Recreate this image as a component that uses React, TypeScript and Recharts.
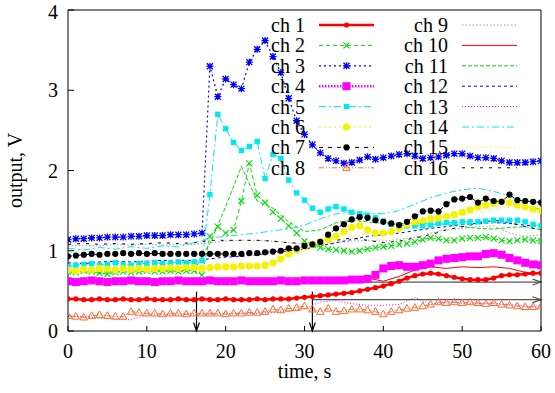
import { LineChart, Line, XAxis, YAxis, ReferenceLine, Legend, Label } from "recharts";

const FONT = "Liberation Serif";

// sample times (s)
const time1 = [
  0, 1, 2, 3, 4, 5, 6, 7, 8, 9, 10, 11, 12, 13, 14, 15, 16, 17, 18, 19, 20,
  21, 22, 23, 24, 25, 26, 27, 28, 29, 30, 31, 32, 33, 34, 35, 36, 37, 38, 39, 40,
  41, 42, 43, 44, 45, 46, 47, 48, 49, 50, 51, 52, 53, 54, 55, 56, 57, 58, 59, 60,
];
const time2 = [
  0, 2, 4, 6, 8, 10, 12, 14, 16, 18, 20, 22, 24, 26, 28, 30,
  32, 34, 36, 38, 40, 42, 44, 46, 48, 50, 52, 54, 56, 58, 60,
];

// channels with markers (time1)
const ch1 = [
  0.40, 0.40, 0.39, 0.39, 0.40, 0.39, 0.39, 0.40, 0.39, 0.39, 0.40, 0.39, 0.39, 0.39, 0.40, 0.39,
  0.39, 0.40, 0.39, 0.39, 0.40, 0.39, 0.39, 0.39, 0.40, 0.39, 0.40, 0.40, 0.40, 0.41, 0.42, 0.43,
  0.44, 0.45, 0.46, 0.47, 0.48, 0.50, 0.52, 0.54, 0.56, 0.59, 0.62, 0.66, 0.69, 0.71, 0.72, 0.71,
  0.69, 0.67, 0.65, 0.64, 0.64, 0.64, 0.66, 0.69, 0.70, 0.70, 0.71, 0.72, 0.72,
];
const ch2 = [
  0.74, 0.73, 0.75, 0.74, 0.72, 0.71, 0.73, 0.74, 0.73, 0.74, 0.75, 0.74, 0.74, 0.75, 0.74, 0.75,
  0.75, 0.70, 1.18, 1.30, 1.22, 1.26, 1.62, 2.09, 1.69, 1.60, 1.48, 1.40, 1.31, 1.22, 1.12, 1.07,
  1.04, 1.02, 1.01, 1.00, 0.99, 1.00, 1.02, 1.04, 1.05, 1.06, 1.08, 1.09, 1.11, 1.14, 1.16, 1.15,
  1.13, 1.13, 1.15, 1.16, 1.16, 1.17, 1.15, 1.13, 1.12, 1.13, 1.14, 1.13, 1.12,
];
const ch3 = [
  1.14, 1.15, 1.15, 1.16, 1.16, 1.17, 1.17, 1.17, 1.18, 1.18, 1.19, 1.19, 1.19, 1.20, 1.20, 1.20,
  1.21, 1.22, 3.30, 2.92, 3.14, 3.07, 3.02, 3.35, 3.51, 3.62, 3.42, 3.22, 2.90, 2.62, 2.45, 2.32,
  2.22, 2.15, 2.12, 2.09, 2.10, 2.13, 2.17, 2.14, 2.16, 2.18, 2.20, 2.21, 2.18, 2.15, 2.16, 2.17,
  2.19, 2.21, 2.21, 2.18, 2.16, 2.16, 2.15, 2.12, 2.10, 2.10, 2.10, 2.11, 2.12,
];
const ch4 = [
  0.62, 0.61, 0.62, 0.63, 0.62, 0.61, 0.62, 0.62, 0.63, 0.62, 0.62, 0.61, 0.62, 0.62, 0.63, 0.62,
  0.62, 0.62, 0.63, 0.62, 0.62, 0.62, 0.63, 0.62, 0.62, 0.62, 0.62, 0.63, 0.62, 0.62, 0.63, 0.63,
  0.63, 0.63, 0.63, 0.63, 0.64, 0.64, 0.65, 0.70, 0.78, 0.81, 0.82, 0.80, 0.80, 0.82, 0.84, 0.88,
  0.90, 0.91, 0.92, 0.93, 0.93, 0.96, 0.97, 0.95, 0.91, 0.88, 0.85, 0.83, 0.82,
];
const ch5 = [
  0.80, 0.82, 0.83, 0.84, 0.82, 0.83, 0.85, 0.83, 0.82, 0.84, 0.84, 0.85, 0.84, 0.85, 0.86, 0.85,
  0.86, 0.88, 1.70, 2.70, 2.52, 2.35, 2.25, 2.30, 2.36, 1.90, 2.20, 2.15, 1.88, 1.72, 1.63, 1.53,
  1.48, 1.52, 1.55, 1.52, 1.48, 1.46, 1.44, 1.41, 1.37, 1.33, 1.32, 1.31, 1.31, 1.31, 1.32, 1.34,
  1.35, 1.35, 1.36, 1.36, 1.36, 1.37, 1.38, 1.38, 1.38, 1.38, 1.36, 1.33, 1.31,
];
const ch6 = [
  0.76, 0.75, 0.77, 0.76, 0.78, 0.77, 0.76, 0.78, 0.77, 0.78, 0.77, 0.78, 0.78, 0.79, 0.78, 0.79,
  0.79, 0.78, 0.79, 0.80, 0.80, 0.80, 0.81, 0.81, 0.81, 0.82, 0.85, 0.90, 0.96, 1.01, 1.05, 1.08,
  1.11, 1.14, 1.18, 1.24, 1.29, 1.31, 1.26, 1.22, 1.22, 1.24, 1.28, 1.33, 1.36, 1.38, 1.40, 1.41,
  1.43, 1.45, 1.48, 1.51, 1.55, 1.57, 1.59, 1.61, 1.60, 1.57, 1.55, 1.52, 1.50,
];
const ch7 = [
  0.93, 0.94, 0.95, 0.96, 0.95, 0.96, 0.96, 0.97, 0.96, 0.97, 0.96, 0.97, 0.96, 0.96, 0.96, 0.96,
  0.96, 0.96, 0.96, 0.96, 0.96, 0.96, 0.96, 0.97, 0.97, 0.98, 0.99, 1.00, 1.03, 1.03, 1.06, 1.08,
  1.11, 1.20, 1.28, 1.33, 1.39, 1.42, 1.41, 1.38, 1.36, 1.34, 1.32, 1.36, 1.43, 1.49, 1.50, 1.49,
  1.58, 1.64, 1.65, 1.67, 1.60, 1.65, 1.62, 1.61, 1.70, 1.63, 1.62, 1.61, 1.60,
];
const ch8 = [
  0.19, 0.18, 0.17, 0.19, 0.20, 0.19, 0.18, 0.18, 0.24, 0.23, 0.22, 0.22, 0.21, 0.22, 0.22, 0.21,
  0.22, 0.22, 0.22, 0.22, 0.21, 0.22, 0.22, 0.23, 0.23, 0.24, 0.27, 0.26, 0.28, 0.29, 0.31, 0.27,
  0.24, 0.28, 0.24, 0.25, 0.27, 0.27, 0.26, 0.24, 0.21, 0.24, 0.26, 0.28, 0.29, 0.31, 0.33, 0.36,
  0.35, 0.36, 0.35, 0.36, 0.35, 0.34, 0.35, 0.33, 0.32, 0.31, 0.30, 0.30, 0.31,
];

// channels without markers (time2)
const ch9 = [1.06, 1.07, 1.06, 1.08, 1.07, 1.08, 1.07, 1.08, 1.08, 1.10, 1.12, 1.13, 1.13, 1.12, 1.10, 1.08, 1.07, 1.10, 1.12, 1.13, 1.12, 1.14, 1.17, 1.22, 1.26, 1.28, 1.30, 1.31, 1.22, 1.18, 1.20];
const ch10 = [0.63, 0.62, 0.64, 0.63, 0.62, 0.64, 0.63, 0.62, 0.63, 0.64, 0.64, 0.66, 0.63, 0.63, 0.62, 0.63, 0.64, 0.63, 0.63, 0.66, 0.62, 0.68, 0.76, 0.80, 0.78, 0.80, 0.79, 0.80, 0.78, 0.73, 0.72];
const ch11 = [0.73, 0.74, 0.72, 0.74, 0.75, 0.74, 0.76, 0.75, 0.76, 1.09, 1.55, 2.05, 1.62, 1.53, 1.36, 1.24, 1.26, 1.35, 1.38, 1.36, 1.34, 1.33, 1.35, 1.34, 1.33, 1.30, 1.28, 1.27, 1.29, 1.30, 1.26];
const ch12 = [0.85, 0.84, 0.86, 0.87, 0.86, 0.87, 0.88, 0.88, 0.88, 0.90, 0.92, 0.93, 0.95, 0.97, 1.00, 1.02, 1.06, 1.10, 1.14, 1.18, 1.20, 1.22, 1.25, 1.28, 1.30, 1.33, 1.34, 1.35, 1.34, 1.32, 1.30];
const ch13 = [0.18, 0.18, 0.16, 0.15, 0.14, 0.20, 0.20, 0.20, 0.21, 0.21, 0.21, 0.22, 0.22, 0.23, 0.25, 0.28, 0.36, 0.38, 0.34, 0.32, 0.32, 0.33, 0.42, 0.33, 0.36, 0.35, 0.34, 0.34, 0.33, 0.31, 0.30];
const ch14 = [1.03, 1.01, 1.04, 1.02, 1.05, 1.03, 1.06, 1.05, 1.10, 1.16, 1.18, 1.20, 1.22, 1.25, 1.27, 1.32, 1.40, 1.46, 1.48, 1.47, 1.46, 1.50, 1.58, 1.66, 1.72, 1.76, 1.78, 1.74, 1.68, 1.58, 1.51];
const ch15 = [0.72, 0.73, 0.72, 0.74, 0.73, 0.74, 0.74, 0.75, 0.75, 0.76, 0.77, 0.78, 0.80, 0.84, 0.92, 1.00, 1.06, 1.12, 1.18, 1.20, 1.22, 1.26, 1.32, 1.36, 1.40, 1.44, 1.48, 1.52, 1.54, 1.50, 1.46];
const ch16 = [1.08, 1.09, 1.08, 1.09, 1.08, 1.09, 1.10, 1.09, 1.10, 1.13, 1.13, 1.13, 1.13, 1.12, 1.10, 1.09, 1.10, 1.13, 1.16, 1.13, 1.10, 1.12, 1.16, 1.20, 1.26, 1.30, 1.34, 1.38, 1.35, 1.30, 1.26];

const xTicks = [0, 10, 20, 30, 40, 50, 60];
const yTicks = [0, 1, 2, 3, 4];

// marker arrows
const eventTimes = [16.3, 31];
const eventTop = 0.49;
const levels = [0.61, 0.39];
const levelStart = 31;

type Series = {
  name: string;
  t: number[];
  v: number[];
  color: string;
  width: number;
  dash?: string;
  marker?: string;
};

const series: Series[] = [
  { name: "ch 1", t: time1, v: ch1, color: "#ff0000", width: 2.5, marker: "dot" },
  { name: "ch 2", t: time1, v: ch2, color: "#00dd00", width: 1, dash: "4 3", marker: "cross" },
  { name: "ch 3", t: time1, v: ch3, color: "#0000ff", width: 1.2, dash: "2 3", marker: "star" },
  { name: "ch 4", t: time1, v: ch4, color: "#ff00ff", width: 2.5, dash: "1.5 1.5", marker: "bigSquare" },
  { name: "ch 5", t: time1, v: ch5, color: "#00e8f0", width: 1, dash: "7 3 2 3", marker: "square" },
  { name: "ch 6", t: time1, v: ch6, color: "#f4f400", width: 1, dash: "2 3", marker: "circle" },
  { name: "ch 7", t: time1, v: ch7, color: "#000000", width: 1, dash: "4 5", marker: "bigDot" },
  { name: "ch 8", t: time1, v: ch8, color: "#ff6a2a", width: 1, dash: "5 2 1 2 1 2", marker: "triangle" },
  { name: "ch 9", t: time2, v: ch9, color: "#a0a0a0", width: 1, dash: "1.5 2" },
  { name: "ch 10", t: time2, v: ch10, color: "#ff0000", width: 1 },
  { name: "ch 11", t: time2, v: ch11, color: "#00dd00", width: 1, dash: "4 2" },
  { name: "ch 12", t: time2, v: ch12, color: "#0000ff", width: 1, dash: "3 3" },
  { name: "ch 13", t: time2, v: ch13, color: "#ff00ff", width: 1, dash: "1 2" },
  { name: "ch 14", t: time2, v: ch14, color: "#00e8f0", width: 1, dash: "7 3 2 3" },
  { name: "ch 15", t: time2, v: ch15, color: "#f4f400", width: 1, dash: "1 3" },
  { name: "ch 16", t: time2, v: ch16, color: "#000000", width: 1, dash: "3 6" },
];

function marker(kind: string | undefined, cx: number, cy: number, color: string, key?: string) {
  switch (kind) {
    case "dot":
      return <circle key={key} cx={cx} cy={cy} r={2.6} fill={color} />;
    case "cross":
      return <path key={key} d={`M${cx - 3} ${cy - 3}L${cx + 3} ${cy + 3}M${cx - 3} ${cy + 3}L${cx + 3} ${cy - 3}`} stroke={color} strokeWidth={1.1} fill="none" />;
    case "star":
      return (
        <path
          key={key}
          d={`M${cx - 3.5} ${cy}L${cx + 3.5} ${cy}M${cx} ${cy - 3.5}L${cx} ${cy + 3.5}M${cx - 3} ${cy - 3}L${cx + 3} ${cy + 3}M${cx - 3} ${cy + 3}L${cx + 3} ${cy - 3}`}
          stroke={color}
          strokeWidth={1.3}
          fill="none"
        />
      );
    case "bigSquare":
      return <rect key={key} x={cx - 4} y={cy - 4} width={8} height={8} fill={color} />;
    case "square":
      return <rect key={key} x={cx - 2.7} y={cy - 2.7} width={5.4} height={5.4} fill={color} />;
    case "circle":
      return <circle key={key} cx={cx} cy={cy} r={3.6} fill={color} />;
    case "bigDot":
      return <circle key={key} cx={cx} cy={cy} r={3.1} fill={color} />;
    case "triangle":
      return <path key={key} d={`M${cx} ${cy - 4}L${cx + 3.7} ${cy + 2.6}L${cx - 3.7} ${cy + 2.6}Z`} stroke={color} strokeWidth={1} fill="none" />;
  }
  return <g key={key} />;
}

const Arrow = (props: any) => {
  const { x1, y1, x2, y2, stroke } = props;
  const a = Math.atan2(y2 - y1, x2 - x1);
  const len = 9;
  const spread = 0.33;
  const h1x = x2 - len * Math.cos(a - spread);
  const h1y = y2 - len * Math.sin(a - spread);
  const h2x = x2 - len * Math.cos(a + spread);
  const h2y = y2 - len * Math.sin(a + spread);
  return (
    <g>
      <line x1={x1} y1={y1} x2={x2} y2={y2} stroke={stroke} strokeWidth={1.2} />
      <path d={`M${h1x} ${h1y}L${x2} ${y2}L${h2x} ${h2y}`} stroke={stroke} strokeWidth={1.2} fill="none" />
    </g>
  );
};

const KeyBox = () => (
  <svg width={555} height={185} style={{ display: "block", fontFamily: FONT }}>
    {series.map((s, i) => {
      const col = i < 8 ? 0 : 1;
      const y = 25 + (i % 8) * 20.4;
      const right = col === 0 ? 305 : 448;
      const x1 = col === 0 ? 319 : 462;
      const x2 = x1 + 55;
      return (
        <g key={s.name}>
          <text x={right} y={y} dy="0.35em" textAnchor="end" style={{ fontFamily: FONT, fontSize: 20 }} fill="#000">
            {s.name}
          </text>
          <line x1={x1} y1={y} x2={x2} y2={y} stroke={s.color} strokeWidth={s.width} strokeDasharray={s.dash} />
          {s.marker ? marker(s.marker, (x1 + x2) / 2, y, s.color) : null}
        </g>
      );
    })}
  </svg>
);

const YTitle = (p: any) => {
  const vb = p.viewBox || { y: 10, height: 321 };
  const cy = vb.y + vb.height / 2;
  return (
    <text x={15} y={cy} transform={`rotate(-90 15 ${cy})`} textAnchor="middle" dominantBaseline="central" style={{ fontFamily: FONT, fontSize: 20 }} fill="#000">
      output, V
    </text>
  );
};

export default function App() {
  const tickStyle = { fill: "#000", fontSize: 20, fontFamily: FONT, style: { fontFamily: FONT } };
  return (
    <div style={{ position: "absolute", left: 0, top: 0, width: 555, height: 393, background: "#fff", fontFamily: FONT }}>
      <LineChart width={555} height={393} margin={{ top: 9, right: 13, bottom: 32, left: 28 }} style={{ fontFamily: FONT }}>
        <XAxis
          dataKey="t"
          type="number"
          domain={[0, 60]}
          ticks={xTicks}
          allowDataOverflow
          height={30}
          tickSize={-5}
          tickMargin={18}
          tick={tickStyle}
          axisLine={{ stroke: "#000" }}
          tickLine={{ stroke: "#000" }}
        >
          <Label value="time, s" position="bottom" offset={3} style={{ fontFamily: FONT, fontSize: 20 }} fill="#000" />
        </XAxis>
        <XAxis
          xAxisId="top"
          dataKey="t"
          type="number"
          orientation="top"
          domain={[0, 60]}
          ticks={xTicks}
          height={1}
          tickSize={-5}
          tick={false}
          axisLine={{ stroke: "#000" }}
          tickLine={{ stroke: "#000" }}
        />
        <YAxis
          type="number"
          domain={[0, 4]}
          ticks={yTicks}
          allowDataOverflow
          width={40}
          tickSize={-6}
          tickMargin={16}
          tick={tickStyle}
          axisLine={{ stroke: "#000" }}
          tickLine={{ stroke: "#000" }}
        >
          <Label content={YTitle} />
        </YAxis>
        <YAxis
          yAxisId="right"
          orientation="right"
          type="number"
          domain={[0, 4]}
          ticks={yTicks}
          width={1}
          tickSize={-6}
          tick={false}
          axisLine={{ stroke: "#000" }}
          tickLine={{ stroke: "#000" }}
        />
        {series.map((s) => (
          <Line
            key={s.name}
            name={s.name}
            data={s.t.map((t, i) => ({ t, v: s.v[i] }))}
            dataKey="v"
            type="linear"
            stroke={s.color}
            strokeWidth={s.width}
            strokeDasharray={s.dash}
            dot={
              s.marker
                ? (p: any) => marker(s.marker, p.cx, p.cy, s.color, `${s.name}-${p.index}`)
                : false
            }
            activeDot={false}
            isAnimationActive={false}
          />
        ))}
        {eventTimes.map((t) => (
          <ReferenceLine
            key={`ev-${t}`}
            segment={[{ x: t, y: eventTop }, { x: t, y: 0 }]}
            stroke="#000"
            shape={Arrow}
          />
        ))}
        {levels.map((v) => (
          <ReferenceLine
            key={`lv-${v}`}
            segment={[{ x: levelStart, y: v }, { x: 60, y: v }]}
            stroke="#555"
            shape={Arrow}
          />
        ))}
        <Legend
          layout="vertical"
          align="center"
          verticalAlign="middle"
          content={KeyBox}
          wrapperStyle={{ position: "absolute", left: 0, top: 0, width: 555, height: 185, margin: 0, padding: 0 }}
        />
      </LineChart>
    </div>
  );
}
